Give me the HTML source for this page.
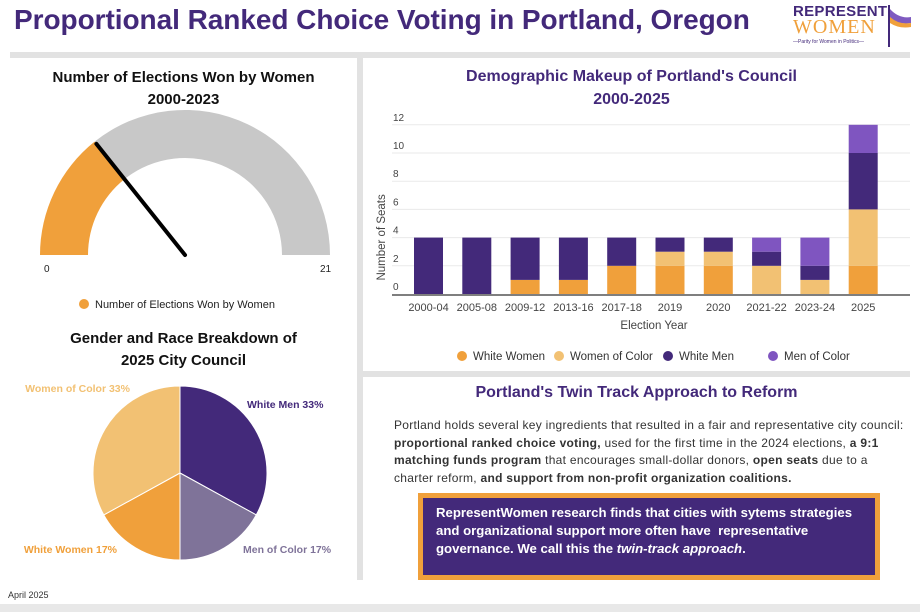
<!DOCTYPE html>
<html><head><meta charset="utf-8"><style>
body{margin:0;width:920px;height:612px;background:#fff;font-family:"Liberation Sans",sans-serif;position:relative;overflow:hidden}
.abs{position:absolute}
.ttl{color:#43297a;font-weight:bold}
</style></head><body>
<div class="abs ttl" style="left:14px;top:4px;font-size:28px;letter-spacing:-0.05px;white-space:nowrap">Proportional Ranked Choice Voting in Portland, Oregon</div>
<div class="abs" style="left:793px;top:3px;width:122px;height:44px">
 <div style="position:absolute;left:0;top:0;font-weight:bold;font-size:15px;color:#43297a;letter-spacing:0.3px">REPRESENT</div>
 <div style="position:absolute;left:0;top:13px;font-size:20px;color:#f0a03b;font-family:'Liberation Serif',serif;letter-spacing:1px">WOMEN</div>
 <div style="position:absolute;left:0;top:36px;font-size:5px;color:#43297a">—Parity for Women in Politics—</div>
 <svg style="position:absolute;left:94px;top:2px" width="26" height="42"><line x1="2" y1="0" x2="2" y2="42" stroke="#43297a" stroke-width="2"/><path d="M3 4 Q12 14 24 12 L24 18 Q12 20 3 14Z" fill="#7f5bc0"/><path d="M3 12 Q12 20 24 18 L24 22 Q12 24 3 18Z" fill="#f0a03b"/></svg>
</div>
<div class="abs" style="left:10px;top:52px;width:900px;height:6px;background:#e2e2e2"></div>
<div class="abs" style="left:357px;top:58px;width:6px;height:522px;background:#e2e2e2"></div>
<div class="abs" style="left:363px;top:371px;width:547px;height:6px;background:#e2e2e2"></div>
<div class="abs" style="left:0;top:604px;width:920px;height:8px;background:#e8e8e8"></div>

<div class="abs" style="left:10px;top:67px;width:347px;text-align:center;font-weight:bold;font-size:15px;line-height:22px;color:#111">Number of Elections Won by Women<br>2000-2023</div>
<svg class="abs" style="left:0;top:0" width="360" height="320">
 <g id="gauge"></g>
 <text x="44" y="272" font-size="10" fill="#222" font-family="Liberation Sans">0</text>
 <text x="320" y="272" font-size="10" fill="#222" font-family="Liberation Sans">21</text>
 <circle cx="84" cy="304" r="5" fill="#f0a03b"/>
 <text x="95" y="308" font-size="11" fill="#222" font-family="Liberation Sans">Number of Elections Won by Women</text>
</svg>

<div class="abs" style="left:10px;top:328px;width:347px;text-align:center;font-weight:bold;font-size:15px;line-height:22px;color:#111">Gender and Race Breakdown of<br>2025 City Council</div>
<svg class="abs" style="left:0;top:360px" width="357" height="220"><g id="pie"></g></svg>

<div class="abs" style="left:363px;top:65px;width:537px;text-align:center;font-weight:bold;font-size:16px;line-height:23px;color:#43297a">Demographic Makeup of Portland's Council<br>2000-2025</div>
<svg class="abs" style="left:363px;top:100px" width="547" height="270"><g id="bars"></g></svg>

<div class="abs ttl" style="left:363px;top:384px;width:547px;text-align:center;font-size:16px">Portland's Twin Track Approach to Reform</div>
<div class="abs" style="left:394px;top:417px;width:520px;font-size:12px;letter-spacing:0.28px;line-height:17.5px;color:#333;white-space:nowrap">Portland holds several key ingredients that resulted in a fair and representative city council:<br><b>proportional ranked choice voting,</b> used for the first time in the 2024 elections, <b>a 9:1</b><br><b>matching funds program</b> that encourages small-dollar donors, <b>open seats</b> due to a<br>charter reform, <b>and support from non-profit organization coalitions.</b></div>
<div class="abs" style="left:418px;top:493px;border:5px solid #f0a03b;background:#43297a;color:#fff;font-weight:bold;font-size:13.2px;line-height:18px;padding:6px 0 0 13px;width:439px;height:71px;white-space:nowrap">RepresentWomen research finds that cities with sytems strategies<br>and organizational support more often have&nbsp; representative<br>governance. We call this the <i>twin-track approach</i>.</div>
<div class="abs" style="left:8px;top:590px;font-size:9px;color:#333">April 2025</div>

<script>
const NS='http://www.w3.org/2000/svg';
function mk(p,t,a){const e=document.createElementNS(NS,t);for(const k in a)e.setAttribute(k,a[k]);p.appendChild(e);return e;}
// Gauge
const gaugeWon=6;
const gaugeMax=21;
(function(){
 const g=document.getElementById('gauge');const cx=185,cy=255,R=145,r=97;
 function arc(a0,a1,col){const p=(a,rr)=>[cx-rr*Math.cos(a),cy-rr*Math.sin(a)];
  const [x0,y0]=p(a0,R),[x1,y1]=p(a1,R),[x2,y2]=p(a1,r),[x3,y3]=p(a0,r);
  return mk(g,'path',{d:`M${x0} ${y0}A${R} ${R} 0 0 1 ${x1} ${y1}L${x2} ${y2}A${r} ${r} 0 0 0 ${x3} ${y3}Z`,fill:col});}
 const f=gaugeWon/gaugeMax*Math.PI;
 const a=arc(0,f,'#f0a03b');
 const b=arc(f,Math.PI,'#c8c8c8');
 const n=mk(g,'line',{x1:cx,y1:cy,x2:cx-R*0.98*Math.cos(f),y2:cy-R*0.98*Math.sin(f),stroke:'#000','stroke-width':4,'stroke-linecap':'round'});
 
})();
// Pie
const pieLabels=['White Men','Men of Color','White Women','Women of Color'];
const pieValues=[33,17,17,33];
const pieColors=['#43297a','#7f7399','#f0a03b','#f2c173'];
(function(){
 const g=document.getElementById('pie');const cx=180,cy=113,R=87;const tot=pieValues.reduce((a,b)=>a+b,0);
 const lab=[[247,48,'start'],[243,193,'start'],[117,193,'end'],[130,32,'end']];
 let a=0;
 pieValues.forEach((v,i)=>{const a1=a+v/tot*2*Math.PI;
  const p=t=>[cx+R*Math.sin(t),cy-R*Math.cos(t)];const [x0,y0]=p(a),[x1,y1]=p(a1);
  const s=mk(g,'path',{d:`M${cx} ${cy}L${x0} ${y0}A${R} ${R} 0 ${a1-a>Math.PI?1:0} 1 ${x1} ${y1}Z`,fill:pieColors[i],stroke:'#fff','stroke-width':1});
  
  
  const t=mk(g,'text',{x:lab[i][0],y:lab[i][1],'font-size':10.5,'font-weight':'bold',fill:pieColors[i],'text-anchor':lab[i][2],'font-family':'Liberation Sans'});
  t.textContent=pieLabels[i]+' '+v+'%';
  
  
  a=a1;});
})();
// Bars
const barCategories=['2000-04','2005-08','2009-12','2013-16','2017-18','2019','2020','2021-22','2023-24','2025'];
const whiteWomen=[0,0,1,1,2,2,2,0,0,2];
const womenOfColor=[0,0,0,0,0,1,1,2,1,4];
const whiteMen=[4,4,3,3,2,1,1,1,1,4];
const menOfColor=[0,0,0,0,0,0,0,1,2,2];
const yTicks=[0,2,4,6,8,10,12];
const seriesNames=['White Women','Women of Color','White Men','Men of Color'];
(function(){
 const g=document.getElementById('bars');const X0=29,X1=547,Y0=194,ppu=14.1;
 const y=v=>Y0-v*ppu;const bw=48.3;const x=i=>65.5+bw*i;
 yTicks.forEach(t=>{if(t>0)mk(g,'line',{x1:X0,x2:X1,y1:y(t),y2:y(t),stroke:'#eaeaea','stroke-width':1});
  const tt=mk(g,'text',{x:X0+1,y:y(t)-4,'font-size':10,fill:'#444','font-family':'Liberation Sans'});tt.textContent=t;
  
  });
 const series=[whiteWomen,womenOfColor,whiteMen,menOfColor];const cols=['#f0a03b','#f2c173','#43297a','#7f55c0'];
 barCategories.forEach((c,i)=>{let base=0;
  series.forEach((s,k)=>{const v=s[i];if(v>0){const r=mk(g,'rect',{x:x(i)-14.5,y:y(base+v),width:29,height:v*ppu,fill:cols[k]});
   
   }
   base+=v;});
  const t=mk(g,'text',{x:x(i),y:Y0+17,'font-size':11,fill:'#444','text-anchor':'middle','font-family':'Liberation Sans'});t.textContent=c;
  
  });
 mk(g,'line',{x1:X0,x2:X1,y1:Y0+1,y2:Y0+1,stroke:'#555','stroke-width':1.5});
 const xt=mk(g,'text',{x:291,y:Y0+35,'font-size':11.5,fill:'#444','text-anchor':'middle','font-family':'Liberation Sans'});xt.textContent='Election Year';
 
 const yt=mk(g,'text',{x:0,y:0,transform:`translate(22,${y(6)+28}) rotate(-90)`,'font-size':11.5,fill:'#444','text-anchor':'middle','font-family':'Liberation Sans'});yt.textContent='Number of Seats';
 
 const lx=[101,198,307,412];
 seriesNames.forEach((n,k)=>{const c=mk(g,'circle',{cx:lx[k]-2,cy:256,r:5,fill:cols[k]});
  
  const t=mk(g,'text',{x:lx[k]+9,y:260,'font-size':11.5,fill:'#333','font-family':'Liberation Sans'});t.textContent=n;
  });
})();
</script>
</body></html>
